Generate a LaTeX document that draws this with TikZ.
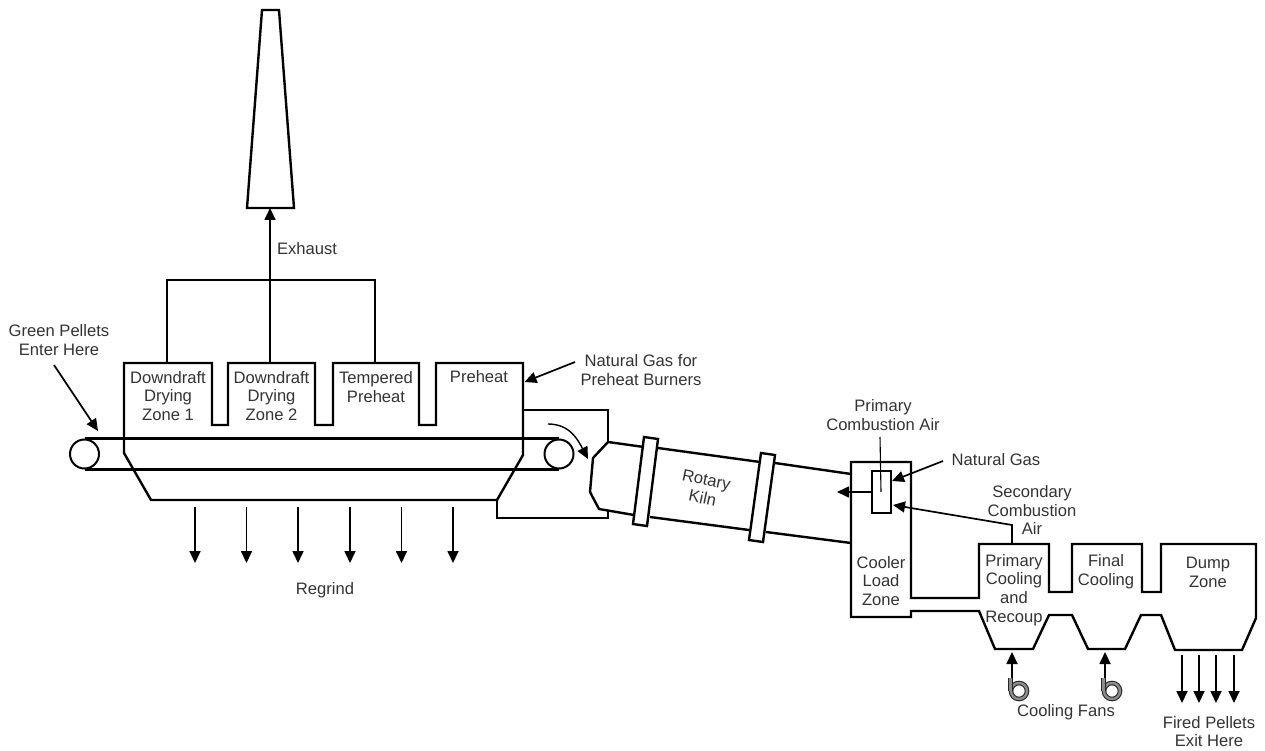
\documentclass[tikz,border=0pt]{standalone}
\usepackage{fontspec}
\setmainfont{Liberation Sans}
\usepackage{tikz}
\usetikzlibrary{arrows.meta}

\begin{document}
\begin{tikzpicture}[
  x=1pt, y=-1pt,
  every node/.style={font=\fontsize{16.6}{18.8}\selectfont, text=black!80, align=center, inner sep=0pt},
  wall/.style={line width=2.4pt, line join=miter},
  thinwall/.style={line width=1.8pt},
  arr/.style={-{Triangle[length=12pt, width=11pt]}, line width=1.7pt},
  roller/.style={draw, circle, line width=2pt, minimum size=29pt},
  fan/.style={draw=black!85, circle, line width=1.1pt, double=black!45, double distance=2.4pt, minimum size=16pt},
  fanduct/.style={draw=black!85, line width=1.1pt, double=black!45, double distance=2.4pt}
]
  \useasboundingbox (0,0) rectangle (1265,751);

  % stack and exhaust duct
  \coordinate (stackbase) at (270,208);
  \coordinate (hoodmid) at (270,363);
  \draw[wall] (262,10) -- (279,10) -- (294,208) -- (247,208) -- cycle;
  \draw[thinwall] (167,363) -- (167,280) -- (375,280) -- (375,363);
  \draw[arr] (hoodmid) -- (stackbase);
  \node (exhaust) at (307,249) {Exhaust};

  % traveling grate hood
  \draw[wall] (124,453) -- (124,363) -- (212,363) -- (212,425) -- (228,425) -- (228,363)
    -- (315,363) -- (315,425) -- (333,425) -- (333,363) -- (419,363) -- (419,425)
    -- (436,425) -- (436,363) -- (523,363) -- (523,455) -- (497,500) -- (151,500) -- cycle;
  \draw[wall] (523,410) -- (608,410) -- (608,442);
  \draw[wall] (497,500) -- (497,518) -- (608,518) -- (608,511);

  % conveyor
  \node[roller] (rollL) at (84.5,454) {};
  \node[roller] (rollR) at (559,454) {};
  \draw[wall] (rollL.north) -- (rollR.north);
  \draw[wall] (rollL.south) -- (rollR.south);

  \node (zone1) at (168,396) {Downdraft\\Drying\\Zone 1};
  \node (zone2) at (271.5,396) {Downdraft\\Drying\\Zone 2};
  \node (zone3) at (376,387) {Tempered\\Preheat};
  \node (zone4) at (479,377) {Preheat};

  \node (green) at (59,340) {Green Pellets\\Enter Here};
  \coordinate (greenA) at (54,365);
  \coordinate (greenB) at (98,431);
  \draw[arr] (greenA) -- (greenB);

  \node (preheatgas) at (641,370) {Natural Gas for\\Preheat Burners};
  \coordinate (preheatA) at (575,362);
  \coordinate (preheatB) at (524.5,382);
  \draw[arr] (preheatA) -- (preheatB);

  \coordinate (dropA) at (548,424);
  \coordinate (dropB) at (588,459);
  \draw[arr, line width=1.4pt] (dropA) .. controls (570,424) and (578,440) .. (dropB);

  % regrind
  \node (regrind) at (325,590) {Regrind};
  \coordinate (rg1a) at (195,507); \coordinate (rg1b) at (195,563);
  \coordinate (rg2a) at (246.5,507); \coordinate (rg2b) at (246.5,563);
  \coordinate (rg3a) at (298,507); \coordinate (rg3b) at (298,563);
  \coordinate (rg4a) at (350,507); \coordinate (rg4b) at (350,563);
  \coordinate (rg5a) at (401.5,507); \coordinate (rg5b) at (401.5,563);
  \coordinate (rg6a) at (453,507); \coordinate (rg6b) at (453,563);
  \draw[arr] (rg1a) -- (rg1b);
  \draw[arr] (rg2a) -- (rg2b);
  \draw[arr] (rg3a) -- (rg3b);
  \draw[arr] (rg4a) -- (rg4b);
  \draw[arr] (rg5a) -- (rg5b);
  \draw[arr] (rg6a) -- (rg6b);

  % rotary kiln
  \draw[wall] (644,447) -- (608,442) -- (593,458) -- (590,492) -- (599,509) -- (634,515);
  \draw[wall] (658,448) -- (760,462);
  \draw[wall] (650,517) -- (749,530);
  \draw[wall] (775,463) -- (851,474);
  \draw[wall] (766,532) -- (851,543);
  \draw[wall] (644,437) -- (658,439) -- (647,526) -- (633,524) -- cycle;
  \draw[wall] (761,453) -- (775,455) -- (763,542) -- (749,540) -- cycle;
  \node[rotate=-12] (kiln) at (704.5,489) {Rotary\\Kiln};

  % cooler
  \draw[wall] (911,598) -- (911,462) -- (851,462) -- (851,617) -- (911,617) -- (911,611) -- (979,611) -- (995,649)
    -- (1033,649) -- (1049,615) -- (1072,615) -- (1088,649) -- (1125,649) -- (1141,615)
    -- (1161,615) -- (1175,650) -- (1242,650) -- (1256,618) -- (1256,544) -- (1161,544)
    -- (1161,592) -- (1142,592) -- (1142,544) -- (1072,544) -- (1072,592) -- (1049,592)
    -- (1049,544) -- (979,544) -- (979,598) -- cycle;

  \node (coolerzone) at (881,581) {Cooler\\Load\\Zone};
  \node (primary) at (1014,590) {Primary\\Cooling\\and\\Recoup};
  \node (finalzone) at (1106,572) {Final\\Cooling};
  \node (dumpzone) at (1208,572) {Dump\\Zone};

  % burner
  \node[draw=black, line width=2.2pt, minimum width=19pt, minimum height=42pt] (burner) at (881.5,492) {};
  \node (primaryair) at (883,415) {Primary\\Combustion Air};
  \node (gas) at (996,460) {Natural Gas};
  \node (secondary) at (1032,510) {Secondary\\Combustion\\Air};
  \coordinate (airA) at (880,437);
  \coordinate (airB) at (881,492);
  \draw[line width=1.1pt] (airA) -- (airB);
  \coordinate (flame) at (837,492);
  \draw[arr] (burner.west) -- (flame);
  \coordinate (gasA) at (943,461);
  \coordinate (gasB) at (892,481);
  \draw[arr] (gasA) -- (gasB);
  \coordinate (secA) at (1012,544);
  \coordinate (secB) at (1012,525);
  \coordinate (secC) at (893,505);
  \draw[arr] (secA) -- (secB) -- (secC);

  % cooling fans
  \node[fan] (fan1) at (1019,691) {};
  \node[fan] (fan2) at (1112,691) {};
  \coordinate (fan1top) at (1012,678);
  \coordinate (fan1tip) at (1012,652);
  \coordinate (fan2top) at (1105,678);
  \coordinate (fan2tip) at (1105,652);
  \draw[fanduct] (fan1.west) -- (fan1.west |- fan1top);
  \draw[fanduct] (fan2.west) -- (fan2.west |- fan2top);
  \draw[arr] (fan1top) -- (fan1tip);
  \draw[arr] (fan2top) -- (fan2tip);
  \node (fans) at (1066,712) {Cooling Fans};

  % fired pellets
  \node (fired) at (1209,731.5) {Fired Pellets\\Exit Here};
  \coordinate (ex1a) at (1182,655); \coordinate (ex1b) at (1182,703);
  \coordinate (ex2a) at (1199,655); \coordinate (ex2b) at (1199,703);
  \coordinate (ex3a) at (1216,655); \coordinate (ex3b) at (1216,703);
  \coordinate (ex4a) at (1234,655); \coordinate (ex4b) at (1234,703);
  \draw[arr] (ex1a) -- (ex1b);
  \draw[arr] (ex2a) -- (ex2b);
  \draw[arr] (ex3a) -- (ex3b);
  \draw[arr] (ex4a) -- (ex4b);
\end{tikzpicture}
\end{document}
